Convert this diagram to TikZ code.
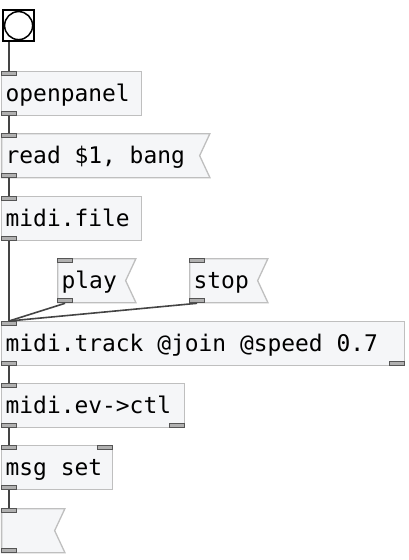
\documentclass[tikz,border=0pt]{standalone}
\usepackage{fontspec}
\newfontfamily\pdfont{DejaVu Sans Mono}
\newcommand\pdtext{\pdfont\fontsize{22.9}{26}\selectfont}
\usetikzlibrary{shapes.symbols}
\definecolor{boxfill}{HTML}{F5F6F8}
\definecolor{boxline}{HTML}{BFBFBF}
\definecolor{iofill}{HTML}{B0B0B0}
\definecolor{iodraw}{HTML}{555555}
\definecolor{wirecol}{HTML}{444444}

\begin{document}
\begin{tikzpicture}[
    x=1pt, y=-1pt,
    obj/.style={rectangle, draw=boxline, fill=boxfill, line width=1.3pt, anchor=north west,
        inner xsep=4pt, inner ysep=0pt, minimum height=44pt, text width=#1, align=flush left,
        text height=19pt, text depth=3pt, font=\pdtext,
        execute at begin node={\spaceskip=13.79pt\relax}},
    msg/.style={obj=#1, shape=signal, signal to=nowhere, signal from=east, signal pointer angle=130},
    iolet/.style={rectangle, draw=iodraw, fill=iofill, line width=1.1pt, inner sep=0pt,
        minimum width=15pt, minimum height=4pt},
    wire/.style={draw=wirecol, line width=1.6pt},
    bangbox/.style={rectangle, draw=black, fill=white, line width=2.2pt, anchor=north west, minimum size=31pt, inner sep=0pt},
    bangdot/.style={circle, draw=black, line width=1.5pt, minimum size=28pt, inner sep=0pt}
]
\useasboundingbox (0,0) rectangle (408,560);

% Bang
\node[bangbox] (bang) at (2,9) {};
\node[bangdot] (bangc) at (bang.center) {};
\coordinate (bang-out) at ([xshift=7pt]bang.south west);

% Boxes
\node[obj=132pt] (op) at (1,71) {openpanel};
\node[msg=190pt] (rd) at (1,133) {read \$1, bang};
\node[obj=132pt] (mf) at (1,196) {midi.file};
\node[msg=60pt] (pl) at (57,258) {play};
\node[msg=60pt] (st) at (189,258) {stop};
\node[obj=395pt] (tr) at (1,321) {midi.track @join @speed 0.7};
\node[obj=175pt] (ev) at (1,383) {midi.ev->ctl};
\node[obj=103pt] (ms) at (1,445) {msg set};
\node[msg=45pt] (em) at (1,508) {};

% Inlets and outlets
\foreach \n in {op,rd,mf,pl,st,tr,ev,ms,em} {
    \node[iolet, anchor=north west] (\n-in) at (\n.north west) {};
    \node[iolet, anchor=south west] (\n-out) at (\n.south west) {};
}
\node[iolet, anchor=south east] (tr-out2) at (tr.south east) {};
\node[iolet, anchor=south east] (ev-out2) at (ev.south east) {};
\node[iolet, anchor=north east] (ms-in2) at (ms.north east) {};

% Wires
\draw[wire] (bang-out) -- (op-in.north);
\draw[wire] (op-out.south) -- (rd-in.north);
\draw[wire] (rd-out.south) -- (mf-in.north);
\draw[wire] (mf-out.south) -- (tr-in.north);
\draw[wire] (pl-out.south) -- (tr-in.north);
\draw[wire] (st-out.south) -- (tr-in.north);
\draw[wire] (tr-out.south) -- (ev-in.north);
\draw[wire] (ev-out.south) -- (ms-in.north);
\draw[wire] (ms-out.south) -- (em-in.north);

\end{tikzpicture}
\end{document}
